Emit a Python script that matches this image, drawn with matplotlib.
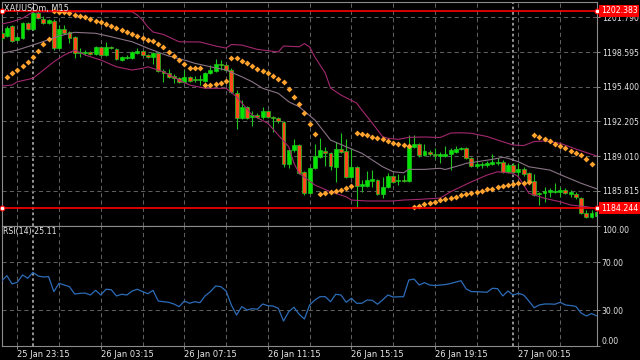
# XAUUSDm M15 chart: candles, bollinger bands, parabolic SAR and RSI(14)
import numpy as np
import matplotlib
matplotlib.use('Agg')
import matplotlib.pyplot as plt
import matplotlib.transforms as mtransforms

nan = np.nan

# 15 minute bars, index 0 = 25 Jan 22:30
opens = [1200.34, 1200.07, 1200.99, 1199.70, 1199.88, 1201.26, 1200.71, 1202.18, 1201.63, 1201.26,
         1201.45, 1198.96, 1200.71, 1200.44, 1199.98, 1198.50, 1198.50, 1198.60, 1198.41, 1199.06,
         1198.32, 1199.06, 1198.87, 1197.86, 1198.04, 1198.04, 1198.50, 1198.69, 1198.32, 1198.14,
         1198.50, 1196.85, 1196.66, 1196.39, 1196.20, 1195.84, 1196.30, 1196.11, 1196.02, 1195.93,
         1196.66, 1196.85, 1197.49, 1197.40, 1196.94, 1194.82, 1192.52, 1193.54, 1192.62, 1192.80,
         1192.62, 1193.17, 1192.62, 1192.52, 1192.16, 1188.29, 1189.58, 1190.04, 1187.56, 1185.62,
         1187.92, 1188.94, 1189.49, 1189.30, 1188.02, 1189.67, 1189.49, 1187.10, 1188.02, 1186.27,
         1186.27, 1186.73, 1186.82, 1185.53, 1186.18, 1187.19, 1186.73, 1186.82, 1186.73, 1189.86,
         1190.13, 1189.12, 1189.40, 1189.21, 1189.03, 1189.03, 1189.21, 1189.40, 1189.67, 1189.76,
         1188.84, 1188.11, 1188.20, 1188.20, 1188.29, 1188.38, 1188.48, 1187.56, 1188.20, 1187.56,
         1187.83, 1187.46, 1186.73, 1185.53, 1185.62, 1185.72, 1185.72, 1185.72, 1185.90, 1185.53,
         1185.53, 1185.16, 1183.78, 1183.42, 1183.51]
highs = [1200.53, 1200.99, 1201.08, 1200.07, 1201.36, 1201.36, 1202.37, 1202.37, 1201.91, 1201.63,
         1201.63, 1201.08, 1201.08, 1200.53, 1200.07, 1198.96, 1198.78, 1198.69, 1199.15, 1199.15,
         1199.52, 1199.15, 1198.96, 1198.23, 1198.32, 1198.69, 1198.96, 1198.78, 1198.41, 1198.60,
         1198.60, 1197.03, 1197.03, 1196.57, 1196.30, 1196.94, 1196.39, 1196.39, 1196.48, 1196.76,
         1197.40, 1197.95, 1197.86, 1197.49, 1197.12, 1195.10, 1194.18, 1193.63, 1193.17, 1192.98,
         1193.54, 1193.26, 1192.70, 1192.62, 1192.25, 1189.76, 1190.59, 1190.13, 1187.65, 1188.02,
         1190.13, 1190.68, 1189.86, 1189.40, 1190.32, 1191.14, 1190.59, 1189.76, 1188.11, 1186.82,
         1187.65, 1187.74, 1186.91, 1187.10, 1187.46, 1187.28, 1187.37, 1187.28, 1190.96, 1190.96,
         1190.22, 1190.13, 1189.58, 1189.76, 1189.40, 1189.95, 1189.76, 1189.95, 1189.86, 1189.86,
         1188.94, 1188.66, 1188.48, 1188.57, 1189.21, 1188.84, 1188.66, 1188.38, 1188.38, 1188.38,
         1188.02, 1187.56, 1187.37, 1185.72, 1186.18, 1186.08, 1186.54, 1186.18, 1186.08, 1185.90,
         1185.72, 1185.26, 1184.06, 1184.06, 1184.15]
lows = [1199.70, 1199.98, 1199.52, 1199.61, 1199.79, 1200.62, 1200.62, 1201.63, 1201.17, 1201.17,
        1198.78, 1198.87, 1200.25, 1199.42, 1198.04, 1198.14, 1198.32, 1198.32, 1198.32, 1198.23,
        1198.23, 1198.87, 1197.86, 1197.77, 1197.95, 1197.95, 1198.41, 1198.23, 1198.04, 1197.49,
        1196.76, 1195.84, 1196.20, 1195.74, 1195.74, 1195.74, 1195.84, 1195.84, 1195.56, 1195.84,
        1196.57, 1196.76, 1196.94, 1196.85, 1194.82, 1191.51, 1192.43, 1192.43, 1191.79, 1192.52,
        1192.43, 1192.52, 1191.24, 1192.06, 1188.02, 1187.92, 1189.40, 1187.37, 1185.44, 1185.53,
        1187.83, 1188.84, 1188.11, 1187.74, 1186.64, 1189.30, 1187.00, 1187.00, 1184.34, 1185.72,
        1186.18, 1186.18, 1185.44, 1185.16, 1186.08, 1186.54, 1186.36, 1186.64, 1186.64, 1189.76,
        1188.94, 1189.03, 1189.03, 1188.75, 1188.38, 1188.94, 1187.74, 1189.30, 1189.58, 1188.75,
        1188.02, 1187.92, 1187.92, 1188.02, 1188.20, 1188.20, 1187.46, 1187.46, 1187.46, 1187.10,
        1187.19, 1186.64, 1185.35, 1184.52, 1184.80, 1185.26, 1185.62, 1185.26, 1185.53, 1185.26,
        1185.07, 1183.69, 1183.32, 1183.32, 1183.32]
closes = [1199.88, 1200.80, 1199.61, 1199.98, 1201.26, 1200.71, 1202.18, 1201.72, 1201.26, 1201.54,
          1198.96, 1200.71, 1200.34, 1199.88, 1198.50, 1198.60, 1198.60, 1198.41, 1199.06, 1198.32,
          1199.06, 1198.96, 1197.95, 1198.14, 1198.14, 1198.60, 1198.69, 1198.32, 1198.14, 1198.50,
          1196.85, 1196.66, 1196.30, 1196.20, 1195.84, 1196.30, 1195.93, 1196.02, 1196.11, 1196.66,
          1196.94, 1197.49, 1197.40, 1196.94, 1194.92, 1192.52, 1193.54, 1192.52, 1192.80, 1192.62,
          1193.17, 1192.62, 1192.52, 1192.25, 1188.29, 1189.58, 1190.04, 1187.46, 1185.62, 1187.92,
          1189.03, 1189.58, 1189.30, 1188.11, 1189.67, 1189.40, 1187.10, 1188.02, 1186.27, 1186.45,
          1186.82, 1186.91, 1185.53, 1186.18, 1187.19, 1186.64, 1186.82, 1186.73, 1189.86, 1190.13,
          1189.12, 1189.49, 1189.21, 1189.12, 1189.21, 1189.21, 1189.58, 1189.67, 1189.76, 1188.84,
          1188.11, 1188.29, 1188.29, 1188.38, 1188.48, 1188.48, 1187.56, 1188.20, 1187.56, 1187.83,
          1187.37, 1186.73, 1185.44, 1185.62, 1185.81, 1185.90, 1185.81, 1185.90, 1185.62, 1185.72,
          1185.26, 1183.78, 1183.42, 1183.78, 1183.88]

# parabolic SAR, one dot per bar
sar = [nan, 1196.32, 1196.66, 1196.94, 1197.28, 1197.68, 1198.16, 1198.72, 1199.30, 1199.79,
       1202.37, 1202.30, 1202.25, 1202.16, 1202.03, 1201.94, 1201.82, 1201.66, 1201.48, 1201.33,
       1201.17, 1201.02, 1200.83, 1200.65, 1200.46, 1200.28, 1200.07, 1199.91, 1199.73, 1199.58,
       1199.36, 1199.06, 1198.60, 1198.23, 1197.83, 1197.46, 1197.10, 1197.10, 1197.10, 1195.56,
       1195.56, 1195.62, 1195.74, 1195.96, 1198.02, 1198.02, 1197.77, 1197.56, 1197.28, 1197.06,
       1196.85, 1196.64, 1196.42, 1196.14, 1195.84, 1195.19, 1194.46, 1193.78, 1193.01, 1191.94,
       1191.02, 1185.50, 1185.60, 1185.69, 1185.78, 1185.90, 1186.11, 1186.30, 1191.17, 1191.05,
       1190.93, 1190.80, 1190.68, 1190.56, 1190.41, 1190.25, 1190.16, 1190.04, 1189.95, 1184.31,
       1184.43, 1184.58, 1184.70, 1184.82, 1184.98, 1185.10, 1185.19, 1185.28, 1185.41, 1185.53,
       1185.65, 1185.74, 1185.84, 1185.96, 1186.02, 1186.15, 1186.24, 1186.33, 1186.42, 1186.52,
       1186.57, 1186.66, 1190.96, 1190.80, 1190.62, 1190.38, 1190.13, 1189.95, 1189.74, 1189.52,
       1189.30, 1189.09, 1188.75, 1188.32, nan]

# bollinger bands, read at selected bars
bb_up_idx = [0, 2, 4, 5, 6, 8, 25, 26, 27, 28, 29, 31, 34, 38, 41, 43, 44, 46, 49, 51,
             53, 54, 57, 58, 59, 60, 62, 63, 65, 68, 69, 71, 73, 74, 76, 78, 81, 84, 86, 88,
             90, 93, 95, 98, 100, 102, 104, 107, 110, 112, 114]
bb_up = [1201.17, 1201.38, 1201.70, 1202.00, 1202.28, 1202.30, 1202.30, 1202.00, 1201.54, 1200.90,
         1200.44, 1200.21, 1199.54, 1199.52, 1199.15, 1198.96, 1199.29, 1199.24, 1198.84, 1198.72,
         1198.60, 1199.15, 1199.08, 1199.38, 1199.06, 1198.14, 1196.66, 1195.28, 1194.64, 1193.90,
         1193.26, 1192.06, 1190.80, 1190.66, 1190.56, 1190.75, 1190.78, 1190.73, 1191.14, 1191.17,
         1191.12, 1190.82, 1190.50, 1190.04, 1189.99, 1190.36, 1190.41, 1190.20, 1189.67, 1189.35,
         1189.03]
bb_mid_idx = [0, 3, 7, 11, 14, 18, 21, 25, 27, 28, 32, 35, 37, 40, 43, 46, 48, 50, 53, 55,
              57, 60, 62, 63, 66, 69, 71, 73, 75, 77, 78, 81, 84, 85, 88, 89, 91, 94, 96, 97,
              99, 101, 105, 108, 111, 114]
bb_mid = [1198.48, 1198.78, 1199.40, 1200.07, 1200.41, 1200.32, 1200.00, 1199.54, 1199.15, 1198.94,
          1198.23, 1197.86, 1197.56, 1197.24, 1196.94, 1196.32, 1195.86, 1195.26, 1194.80, 1194.02,
          1193.56, 1192.34, 1191.12, 1190.50, 1189.88, 1189.28, 1188.66, 1188.04, 1187.58, 1187.49,
          1187.80, 1187.80, 1187.90, 1187.79, 1188.20, 1188.36, 1188.50, 1188.72, 1188.91, 1188.82,
          1188.50, 1188.04, 1187.74, 1187.12, 1186.52, 1186.01]
bb_lo_idx = [0, 2, 3, 6, 8, 10, 12, 14, 16, 19, 22, 25, 27, 28, 31, 34, 36, 39, 43, 45,
             48, 51, 53, 55, 56, 57, 60, 63, 66, 67, 70, 75, 77, 80, 84, 86, 90, 93, 95, 98,
             99, 100, 101, 104, 107, 109, 112, 114]
bb_lo = [1195.47, 1195.56, 1195.86, 1196.18, 1196.94, 1197.70, 1198.32, 1198.78, 1198.32, 1197.86,
         1197.24, 1196.94, 1197.10, 1197.24, 1196.78, 1196.02, 1195.56, 1195.26, 1195.26, 1194.48,
         1192.80, 1192.04, 1190.96, 1189.88, 1188.36, 1187.44, 1186.36, 1185.74, 1185.28, 1184.98,
         1184.89, 1184.89, 1184.98, 1185.04, 1185.16, 1185.74, 1186.66, 1187.28, 1187.58, 1187.44,
         1187.12, 1186.36, 1185.60, 1185.14, 1184.82, 1184.52, 1184.36, 1184.22]

# RSI(14), one value per bar
rsi = [54.2, 58.6, 51.7, 53.1, 59.2, 56.4, 61.4, 58.3, 57.5, 57.8,
       45.3, 52.3, 50.8, 49.4, 43.3, 43.9, 44.1, 42.5, 46.4, 42.5,
       47.3, 46.9, 41.7, 43.1, 42.5, 45.8, 47.3, 45.3, 43.6, 46.4,
       37.5, 36.9, 36.4, 35.0, 32.8, 37.5, 35.6, 36.9, 36.1, 41.9,
       45.3, 50.0, 49.4, 45.8, 34.2, 25.8, 32.8, 30.0, 31.1, 30.6,
       35.0, 33.6, 33.3, 31.4, 20.8, 28.6, 32.3, 26.4, 22.5, 34.2,
       38.3, 41.1, 41.1, 36.9, 43.1, 42.5, 36.4, 39.8, 35.6, 35.6,
       38.3, 38.1, 34.8, 38.5, 42.5, 40.8, 41.0, 41.1, 55.0, 55.8,
       50.8, 52.8, 50.8, 50.4, 50.8, 51.2, 52.1, 53.3, 54.4, 47.5,
       45.3, 45.3, 45.0, 44.8, 48.1, 47.8, 41.7, 45.8, 42.5, 43.9,
       42.5, 37.5, 31.9, 34.2, 35.0, 35.0, 34.8, 36.4, 34.2, 33.7,
       33.0, 27.5, 25.0, 27.0, 25.11]

price_ticks = [1201.790, 1198.595, 1195.400, 1192.205, 1189.010, 1185.815]
red_lines = [1202.383, 1184.244]
rsi_ticks = [0, 30, 70, 100]
time_idx = [3, 19, 35, 51, 67, 83, 99]
time_labels = ['25 Jan 23:15', '26 Jan 03:15', '26 Jan 07:15', '26 Jan 11:15',
               '26 Jan 15:15', '26 Jan 19:15', '27 Jan 00:15']
day_sep_idx = [6, 98]

# colours
fg = '#e6e6e6'
grid_col = '#5e5e5e'
frame_col = '#8c8c8c'
bull_col = '#00e600'
bear_col = '#ff4a1e'
wick_col = '#1fc41f'
sar_col = '#ffa22e'
band_col = '#a3286f'
mid_col = '#8a7386'
rsi_col = '#2c6cb8'

W, H = 640., 360.
fig = plt.figure(figsize=(6.4, 3.6), dpi=100, facecolor='black')
ax = fig.add_axes([2 / W, 1 - 226 / H, 595 / W, 224 / H], facecolor='black')
ax2 = fig.add_axes([2 / W, 1 - 346 / H, 595 / W, 120 / H], facecolor='black')

xlim = (0.07, 114.05)
for a in (ax, ax2):
    a.set_xlim(*xlim)
    for s in a.spines.values():
        s.set_color(frame_col)
        s.set_linewidth(0.8)
    # time grid every 2 hours
    for gi in range(3, 115, 8):
        a.axvline(gi, color=grid_col, lw=0.75, ls=(0, (4, 3)), zorder=0)
    for di in day_sep_idx:
        a.axvline(di, color='#a0a0a0', lw=1.3, ls=(0, (1.5, 1.5)), zorder=0)
ax.set_ylim(1182.59, 1203.20)
ax2.set_ylim(0, 100)

for p in price_ticks:
    ax.axhline(p, color=grid_col, lw=0.75, ls=(0, (4, 3)), zorder=0)
for r in (30, 70):
    ax2.axhline(r, color=grid_col, lw=0.75, ls=(0, (4, 3)), zorder=0)

# candles
x = np.arange(len(opens))
o = np.array(opens)
h = np.array(highs)
l = np.array(lows)
c = np.array(closes)
up = c >= o
ax.vlines(x, l, h, color=wick_col, lw=0.8, zorder=3)
body_bottom = np.minimum(o, c)
body_height = np.maximum(np.abs(c - o), 0.09)
ax.bar(x, body_height, bottom=body_bottom, width=0.75,
       color=np.where(up, bull_col, bear_col), edgecolor=wick_col,
       linewidth=0.5, zorder=4)

# indicators
ax.plot(bb_up_idx, bb_up, color=band_col, lw=0.8, zorder=5)
ax.plot(bb_lo_idx, bb_lo, color=band_col, lw=0.8, zorder=5)
ax.plot(bb_mid_idx, bb_mid, color=mid_col, lw=0.8, zorder=5)
ax.plot(x, sar, 'D', color=sar_col, ms=3.0, mec='none', zorder=6)

# horizontal lines with price labels
lab_trans = mtransforms.blended_transform_factory(ax.transAxes, ax.transData)
for v in red_lines:
    ax.axhline(v, color='#ff0000', lw=1.2, zorder=7)
    ax.plot([xlim[0], xlim[1]], [v, v], 'o', ms=3.5, mfc='white', mec='#ff0000',
            mew=0.8, clip_on=False, zorder=8)
    ax.text(1 + 4 / 595., v, '%.3f' % v, transform=lab_trans, color='white',
            fontsize=5.6, ha='left', va='center', clip_on=False, zorder=9,
            bbox=dict(boxstyle='square,pad=0.22', fc='#ff0000', ec='none'))

ax2.plot(x, rsi, color=rsi_col, lw=0.9, zorder=3)

# price scale
ax.yaxis.tick_right()
ax.set_yticks(price_ticks)
ax.set_yticklabels(['%.3f' % p for p in price_ticks])
ax.tick_params(axis='y', colors=fg, color=frame_col, labelsize=5.6, length=2.5,
               width=0.7, pad=1.0)
ax.set_xticks([])

ax2.yaxis.tick_right()
ax2.set_yticks(rsi_ticks)
ax2.set_yticklabels(['%.2f' % r for r in rsi_ticks])
ax2.tick_params(axis='y', colors=fg, color=frame_col, labelsize=5.6, length=2.5,
                width=0.7, pad=1.0)
ylabs = ax2.get_yticklabels()
ylabs[0].set_va('bottom')
ylabs[-1].set_va('top')

ax2.set_xticks(time_idx)
ax2.set_xticklabels(time_labels)
ax2.tick_params(axis='x', colors=fg, color=frame_col, labelsize=6.0, length=2,
                width=0.7, pad=1.0)
for t in ax2.get_xticklabels():
    t.set_ha('left')

fig.text(4 / W, 1 - 8 / H, 'XAUUSDm, M15', color=fg, fontsize=5.9, ha='left', va='center')
fig.text(3 / W, 1 - 231 / H, 'RSI(14) 25.11', color=fg, fontsize=5.7, ha='left', va='center')

fig.savefig('out.png', dpi=100, facecolor='black')
